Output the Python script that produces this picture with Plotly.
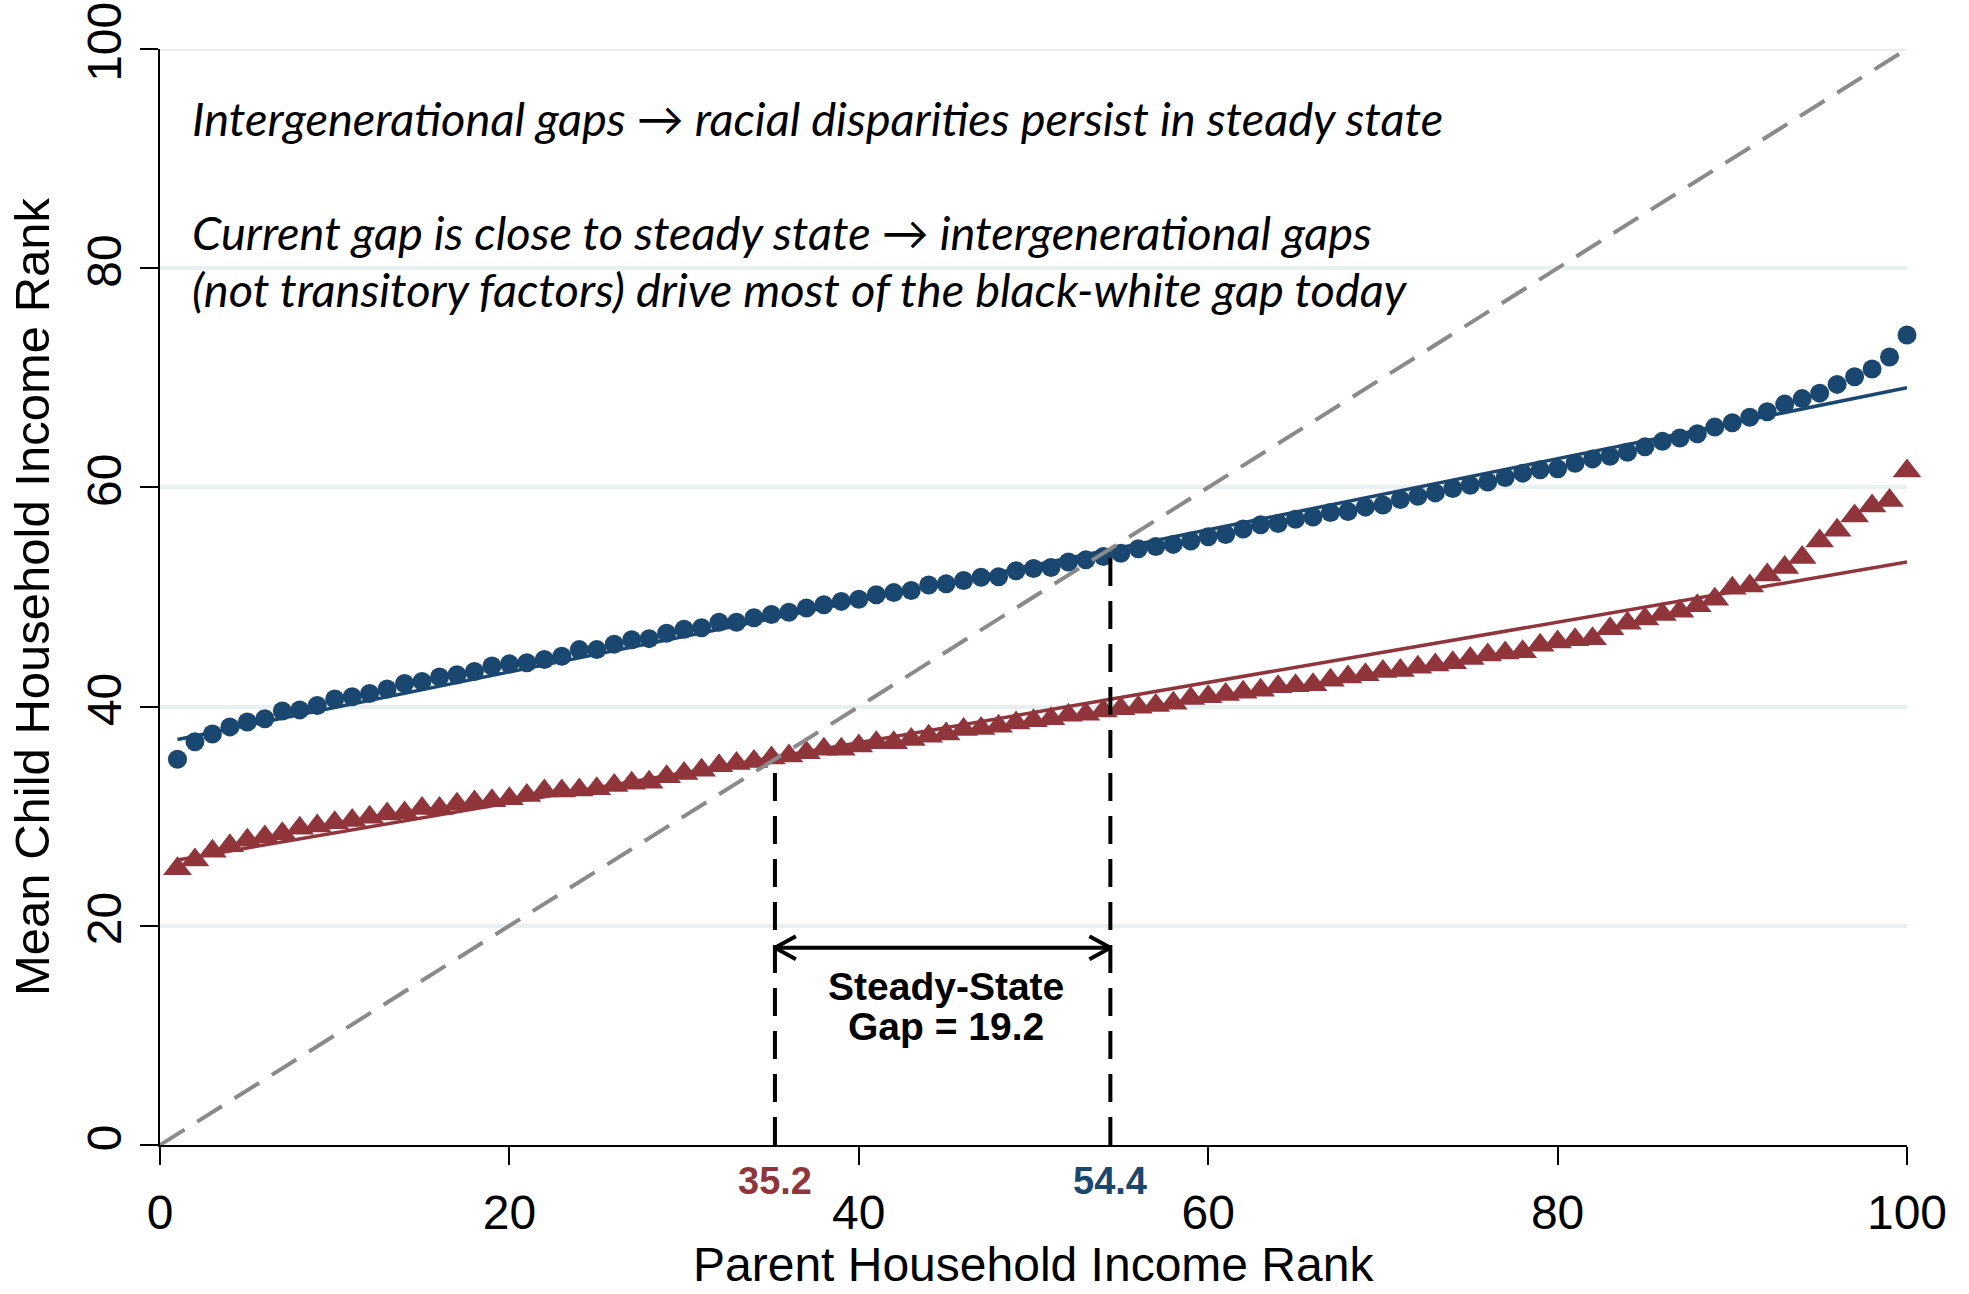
import plotly.graph_objects as go

# ---- data ----
parent_rank = list(range(1, 101))

white_mean = [35.2, 36.8, 37.5, 38.15, 38.6, 38.9, 39.6, 39.7, 40.1, 40.7,
              40.9, 41.2, 41.6, 42.1, 42.3, 42.7, 42.9, 43.2, 43.7, 43.9,
              44.0, 44.3, 44.6, 45.2, 45.2, 45.7, 46.1, 46.2, 46.7, 47.05,
              47.2, 47.7, 47.7, 48.1, 48.4, 48.6, 49.0, 49.3, 49.6, 49.8,
              50.2, 50.4, 50.6, 51.1, 51.2, 51.5, 51.8, 51.85, 52.4, 52.6,
              52.7, 53.2, 53.4, 53.7, 54.0, 54.4, 54.6, 54.8, 55.1, 55.5,
              55.7, 56.2, 56.6, 56.7, 57.1, 57.3, 57.7, 57.8, 58.2, 58.4,
              58.9, 59.2, 59.5, 59.9, 60.2, 60.5, 60.9, 61.3, 61.6, 61.7,
              62.2, 62.6, 62.85, 63.2, 63.7, 64.2, 64.5, 64.9, 65.5, 65.9,
              66.4, 66.9, 67.6, 68.1, 68.6, 69.4, 70.1, 70.8, 71.9, 73.9]

black_mean = [25.2, 26.0, 26.8, 27.3, 27.8, 28.1, 28.4, 28.9, 29.1, 29.4,
              29.6, 29.9, 30.2, 30.3, 30.7, 30.7, 31.1, 31.3, 31.4, 31.6,
              31.9, 32.3, 32.3, 32.4, 32.5, 32.8, 33.0, 33.1, 33.6, 33.9,
              34.2, 34.6, 34.8, 35.0, 35.3, 35.5, 35.8, 36.1, 36.1, 36.4,
              36.7, 36.7, 37.0, 37.3, 37.5, 37.9, 38.0, 38.2, 38.5, 38.7,
              38.9, 39.2, 39.3, 39.6, 39.8, 39.95, 40.1, 40.3, 40.75, 40.9,
              41.1, 41.3, 41.5, 41.8, 41.9, 42.0, 42.4, 42.7, 42.9, 43.2,
              43.3, 43.6, 43.8, 44.0, 44.4, 44.7, 44.9, 45.0, 45.6, 45.9,
              46.1, 46.2, 47.1, 47.6, 48.0, 48.4, 48.7, 49.2, 49.8, 50.8,
              51.0, 52.0, 52.7, 53.6, 55.1, 56.1, 57.4, 58.3, 58.8, 61.5]

fit_x = [1, 100]
white_fit = [37.0, 69.1]
black_fit = [26.0, 53.2]

diag_x = [0, 100]
diag_y = [0, 100]

ss_black = 35.2
ss_white = 54.4
ss_gap_label = "Gap = 19.2"
arrow_level = 18.0

tick_vals = [0, 20, 40, 60, 80, 100]

x_title = "Parent Household Income Rank"
y_title = "Mean Child Household Income Rank"

text_lines = [
    "Intergenerational gaps \u2192 racial disparities persist in steady state",
    "Current gap is close to steady state \u2192 intergenerational gaps",
    "(not transitory factors) drive most of the black-white gap today",
]
text_levels = [93.75, 83.3, 78.1]

# ---- styling ----
BLUE = "#1a476f"
RED = "#90353b"
GRAY = "#8a8a8a"
GRID = "#e9f0f1"
AXFONT = "Liberation Sans, Arial, sans-serif"

fig = go.Figure()

fig.add_shape(type="line", xref="x", yref="y", x0=0, x1=100,
              y0=tick_vals[-1], y1=tick_vals[-1], layer="below",
              line=dict(color=GRID, width=4))

fig.add_trace(go.Scatter(x=parent_rank, y=white_mean, mode="markers",
                         marker=dict(symbol="circle", size=19, color=BLUE),
                         cliponaxis=False, showlegend=False))
fig.add_trace(go.Scatter(x=parent_rank, y=black_mean, mode="markers",
                         marker=dict(symbol="triangle-up", size=25, color=RED),
                         cliponaxis=False, showlegend=False))
fig.add_trace(go.Scatter(x=fit_x, y=white_fit, mode="lines",
                         line=dict(color=BLUE, width=3.5), showlegend=False))
fig.add_trace(go.Scatter(x=fit_x, y=black_fit, mode="lines",
                         line=dict(color=RED, width=3.5), showlegend=False))
fig.add_trace(go.Scatter(x=diag_x, y=diag_y, mode="lines",
                         line=dict(color=GRAY, width=4, dash="29px,15px"),
                         showlegend=False))
fig.add_trace(go.Scatter(x=[ss_black, ss_black], y=[0, ss_black], mode="lines",
                         line=dict(color="black", width=4, dash="28px,15px"),
                         showlegend=False))
fig.add_trace(go.Scatter(x=[ss_white, ss_white], y=[0, ss_white], mode="lines",
                         line=dict(color="black", width=4, dash="28px,15px"),
                         showlegend=False))

# double-headed arrow between the steady states
fig.add_shape(type="line", x0=ss_black, x1=ss_white, y0=arrow_level, y1=arrow_level,
              line=dict(color="black", width=4))
hx, hy = 1.2, 1.05
for xe, d in [(ss_black, 1), (ss_white, -1)]:
    for s in (1, -1):
        fig.add_shape(type="line", x0=xe, y0=arrow_level, x1=xe + d * hx,
                      y1=arrow_level + s * hy, line=dict(color="black", width=4))

mid = (ss_black + ss_white) / 2 + 0.2
fig.add_annotation(x=mid, y=14.5, xref="x", yref="y", text="<b>Steady-State</b>",
                   showarrow=False, font=dict(family=AXFONT, size=39, color="black"))
fig.add_annotation(x=mid, y=10.8, xref="x", yref="y", text="<b>" + ss_gap_label + "</b>",
                   showarrow=False, font=dict(family=AXFONT, size=39, color="black"))
fig.add_annotation(x=ss_black, y=-0.0324, xref="x", yref="paper", yanchor="middle",
                   text="<b>%.1f</b>" % ss_black,
                   showarrow=False, font=dict(family=AXFONT, size=38, color=RED))
fig.add_annotation(x=ss_white, y=-0.0324, xref="x", yref="paper", yanchor="middle",
                   text="<b>%.1f</b>" % ss_white,
                   showarrow=False, font=dict(family=AXFONT, size=38, color=BLUE))

# x-axis title placed as an annotation so it can sit close to the bottom edge
fig.add_annotation(x=0.5, y=-0.109, xref="paper", yref="paper", yanchor="middle",
                   text=x_title, showarrow=False,
                   font=dict(family=AXFONT, size=48, color="black"))

for t, yv in zip(text_lines, text_levels):
    fig.add_annotation(x=1.74, y=yv, xref="x", yref="y", text="<i>" + t + "</i>",
                       showarrow=False, xanchor="left", yanchor="middle",
                       font=dict(family="Lato, Open Sans, sans-serif", size=47, color="black"))

fig.update_layout(
    width=1969, height=1294,
    margin=dict(l=159.5, r=61.5, t=48.5, b=148.5),
    paper_bgcolor="white", plot_bgcolor="white",
    font=dict(family=AXFONT, color="black"),
)
fig.update_xaxes(range=[0, 100], tickvals=tick_vals, showline=True, linecolor="black",
                 linewidth=2, ticks="outside", ticklen=18, tickwidth=2, tickcolor="black",
                 showgrid=False, zeroline=False, tickfont=dict(size=48),
                 ticklabelstandoff=6, automargin=False, ticklabeloverflow="allow")
fig.update_yaxes(range=[0, 100], tickvals=tick_vals, showline=True, linecolor="black",
                 linewidth=2, ticks="outside", ticklen=18, tickwidth=2, tickcolor="black",
                 showgrid=True, gridcolor=GRID, gridwidth=4, zeroline=False,
                 tickangle=-90, tickfont=dict(size=48), ticklabelstandoff=0, automargin=False,
                 ticklabeloverflow="allow",
                 title=dict(text=y_title, font=dict(size=49), standoff=13))

fig.write_html("out.html", config={"displayModeBar": False},
               post_script="document.body.style.margin='0px';document.body.style.overflow='hidden';")
